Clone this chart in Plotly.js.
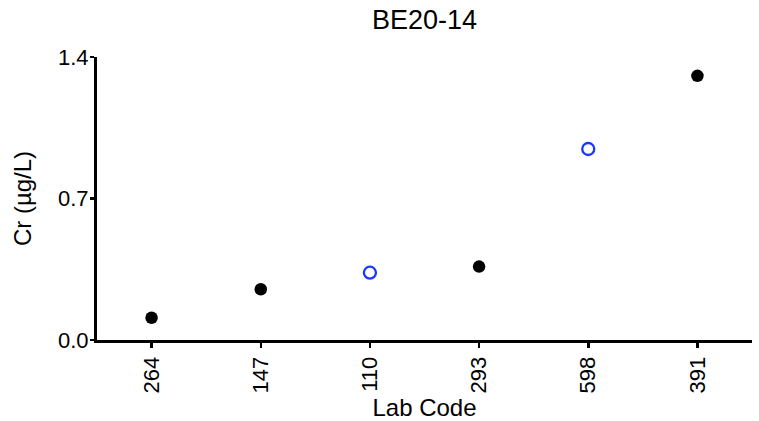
<!DOCTYPE html>
<html>
<head>
<meta charset="utf-8">
<script src="https://cdn.plot.ly/plotly-3.0.1.min.js"></script>
<style>html,body{margin:0;padding:0;background:#fff;}#chart{width:759px;height:421px;}</style>
</head>
<body>
<div id="chart"></div>
<script>
const labCodes = ["264", "147", "110", "293", "598", "391"];
const crValues = [0.110, 0.251, 0.333, 0.363, 0.945, 1.307];
const isOutlier = [false, false, true, false, true, false];
const yTicks = [0, 0.7, 1.4];
const yTickText = ["0.0", "0.7", "1.4"];

const normX = [], normY = [], outX = [], outY = [];
labCodes.forEach((c, i) => {
  if (isOutlier[i]) { outX.push(c); outY.push(crValues[i]); }
  else { normX.push(c); normY.push(crValues[i]); }
});

const font = "Liberation Sans, Arial, sans-serif";
const traces = [
  {x: normX, y: normY, type: "scatter", mode: "markers",
   marker: {symbol: "circle", size: 12.5, color: "#000000"}, showlegend: false, hoverinfo: "x+y"},
  {x: outX, y: outY, type: "scatter", mode: "markers",
   marker: {symbol: "circle-open", size: 12, color: "#1638ff", line: {width: 2.3, color: "#1638ff"}}, showlegend: false, hoverinfo: "x+y"}
];

const layout = {
  width: 759, height: 421,
  margin: {l: 97, r: 7, t: 57, b: 81},
  paper_bgcolor: "#ffffff", plot_bgcolor: "#ffffff",
  font: {family: font, color: "#000000", size: 22},
  title: {text: "BE20-14", font: {family: font, size: 27, color: "#000"}, x: 0.5, xref: "paper", y: 0.953, yref: "container", yanchor: "middle"},
  xaxis: {
    type: "category", categoryorder: "array", categoryarray: labCodes,
    range: [-0.5, 5.5], showgrid: false, zeroline: false,
    showline: true, linewidth: 3, linecolor: "#000",
    ticks: "outside", ticklen: 5, tickwidth: 2.5, tickcolor: "#000",
    tickangle: -90, tickfont: {family: font, size: 22, color: "#000"},
    title: {text: "Lab Code", font: {family: font, size: 24, color: "#000"}, standoff: 2}
  },
  yaxis: {
    range: [0, 1.4], showgrid: false, zeroline: false,
    showline: true, linewidth: 3, linecolor: "#000",
    tickmode: "array", tickvals: yTicks, ticktext: yTickText,
    ticks: "outside", ticklen: 4, tickwidth: 2.5, tickcolor: "#000",
    ticklabelstandoff: -3,
    tickfont: {family: font, size: 22, color: "#000"},
    title: {text: "Cr (µg/L)", font: {family: font, size: 24, color: "#000"}, standoff: 20}
  }
};

Plotly.newPlot("chart", traces, layout, {staticPlot: true, displayModeBar: false});
</script>
</body>
</html>
